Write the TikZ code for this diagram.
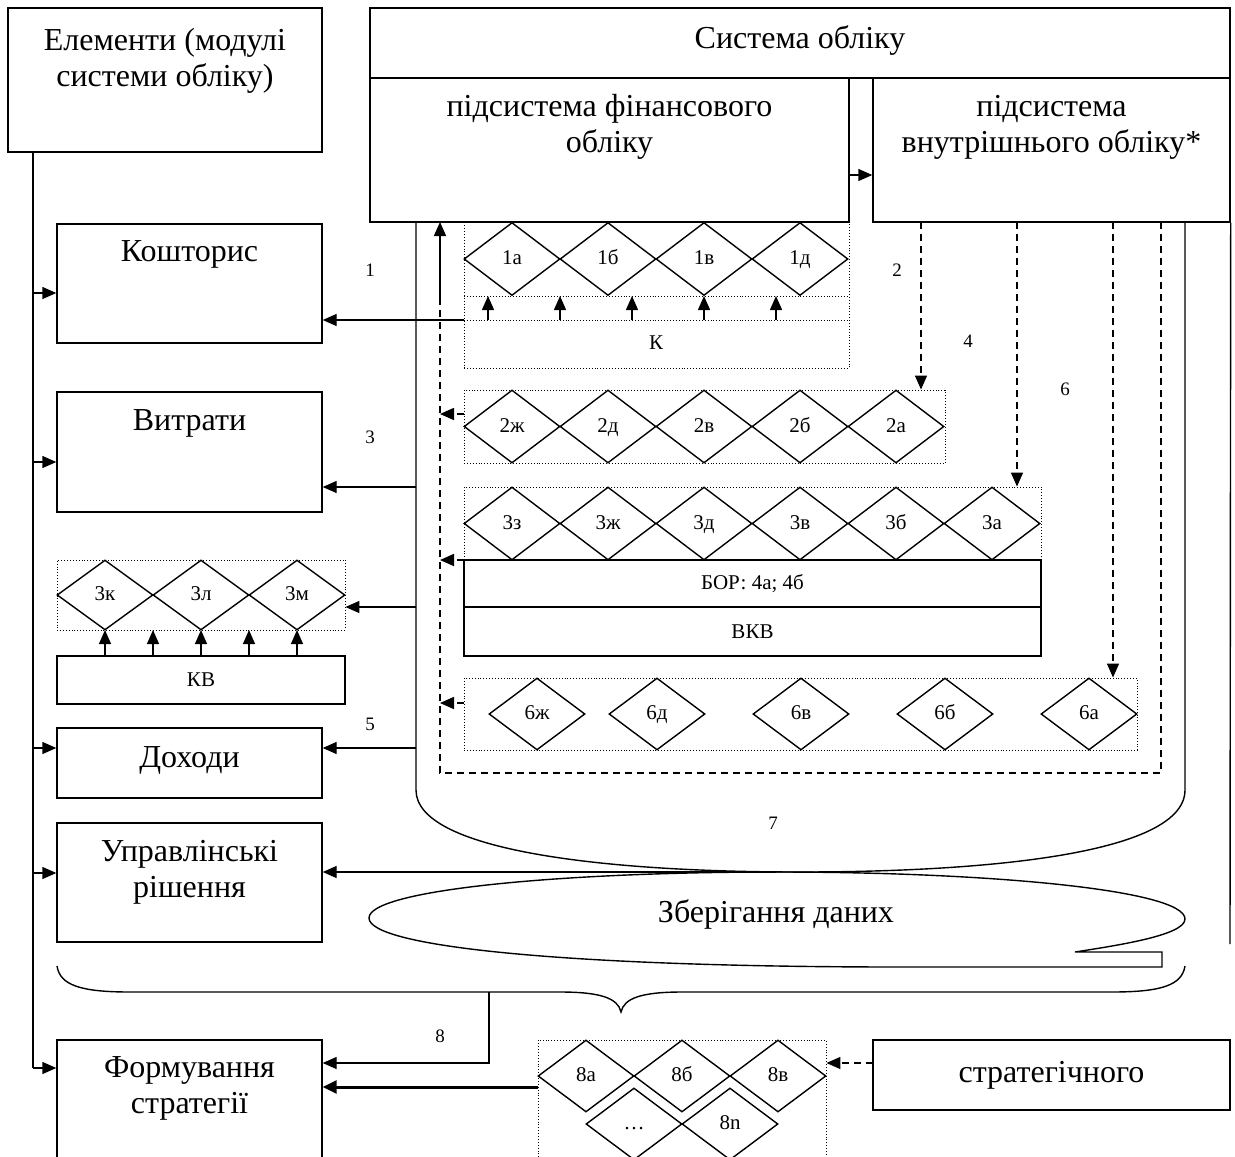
\documentclass[tikz,border=0pt]{standalone}
\usepackage{fontspec}
\setmainfont{Liberation Serif}
\usetikzlibrary{arrows.meta,shapes.geometric}

\tikzset{
  box/.style={draw, line width=1.4pt, inner sep=0pt},
  dia/.style={draw, diamond, line width=1.4pt, minimum width=96pt, minimum height=73pt,
    inner sep=0pt, text height=14pt, text depth=3pt, font=\fontsize{21}{24}\selectfont},
  grp/.style={draw, dotted, line width=0.9pt, inner sep=0pt},
  arr/.style={line width=1.4pt, -{Triangle[length=14pt,width=12pt]}},
  darr/.style={line width=1.6pt, dash pattern=on 7pt off 5pt, -{Triangle[length=14pt,width=12pt]}},
  dline/.style={line width=1.6pt, dash pattern=on 7pt off 5pt},
  big/.style={font=\fontsize{32}{36}\selectfont, align=center, inner sep=0pt},
  small/.style={font=\fontsize{21}{24}\selectfont, inner sep=0pt},
  num/.style={font=\fontsize{19}{22}\selectfont, inner sep=0pt}
}

\begin{document}
\begin{tikzpicture}[x=1pt,y=-1pt]
\useasboundingbox (0,0) rectangle (1235,1157);

% ---------- left column ----------
\node[box, minimum width=314pt, minimum height=144pt] (elem) at (165,80) {};
\node[big] (elemT) at (165,61) {Елементи (модулі\\системи обліку)};

\node[box, minimum width=265pt, minimum height=119pt] (kosh) at (189.5,283.5) {};
\node[big] (koshT) at (189.5,254) {Кошторис};

\node[box, minimum width=265pt, minimum height=120pt] (vytr) at (189.5,452) {};
\node[big] (vytrT) at (189.5,423) {Витрати};

\node[grp, minimum width=288pt, minimum height=70pt] (gK) at (201,595) {};
\node[dia, minimum height=70pt] (d3k) at (105,595) {3к};
\node[dia, minimum height=70pt] (d3l) at (201,595) {3л};
\node[dia, minimum height=70pt] (d3m) at (297,595) {3м};
\node[box, minimum width=288pt, minimum height=48pt, small] (kv) at (201,680) {КВ};
\foreach \xx in {105,153,201,249,297}
  \draw[arr] (\xx,656) -- (\xx,630);

\node[box, minimum width=265pt, minimum height=70pt] (doh) at (189.5,763) {};
\node[big] (dohT) at (189.5,760) {Доходи};

\node[box, minimum width=265pt, minimum height=119pt] (upr) at (189.5,882.5) {};
\node[big] (uprT) at (189.5,872) {Управлінські\\рішення};

\node[box, minimum width=265pt, minimum height=140pt] (form) at (189.5,1110) {};
\node[big] (formT) at (189.5,1088) {Формування\\стратегії};

% trunk from the modules box
\coordinate (tr0) at (33,152);
\coordinate (tr1) at (33,293);
\coordinate (tr2) at (33,462);
\coordinate (tr3) at (33,748);
\coordinate (tr4) at (33,873);
\coordinate (tr5) at (33,1068);
\draw[line width=1.4pt] (tr0) -- (tr5);
\draw[arr] (tr1) -- (tr1 -| kosh.west);
\draw[arr] (tr2) -- (tr2 -| vytr.west);
\draw[arr] (tr3) -- (tr3 -| doh.west);
\draw[arr] (tr4) -- (tr4 -| upr.west);
\draw[arr] (tr5) -- (tr5 -| form.west);

% ---------- accounting system ----------
\node[box, minimum width=860pt, minimum height=70pt] (sys) at (800,43) {};
\node[big] (sysT) at (800,40) {Система обліку};
\node[box, minimum width=479pt, minimum height=144pt] (fin) at (609.5,150) {};
\node[big] (finT) at (609.5,127) {підсистема фінансового\\обліку};
\node[box, minimum width=357pt, minimum height=144pt] (inn) at (1051.5,150) {};
\node[big] (innT) at (1051.5,127) {підсистема\\внутрішнього обліку*};
\coordinate (fi) at (849,175);
\draw[arr] (fi) -- (fi -| inn.west);

% outer frame of the system
\draw[line width=1.4pt] (416,222) -- (416,790)
  .. controls (416,850) and (600,872) .. (800,872)
  .. controls (980,872) and (1185,855) .. (1185,790) -- (1185,222);
\coordinate (rl) at (1230,944);
\draw[line width=1.4pt] (inn.south east) -- (rl);

% group 1
\node[grp, minimum width=385pt, minimum height=146pt] (g1) at (656.5,295) {};
\node[dia] (d1a) at (512,259) {1а};
\node[dia] (d1b) at (608,259) {1б};
\node[dia] (d1v) at (704,259) {1в};
\node[dia] (d1d) at (800,259) {1д};
\draw[dotted, line width=0.9pt] (464,296) -- (849,296);
\draw[dotted, line width=0.9pt] (464,320) -- (849,320);
\foreach \xx in {488,560,632,704,776}
  \draw[arr] (\xx,320) -- (\xx,296);
\node[small] (kT) at (656,343) {К};
\coordinate (g1o) at (464,320);
\draw[arr] (g1o) -- (g1o -| kosh.east);

% group 2
\node[grp, minimum width=481pt, minimum height=73pt] (g2) at (704.5,426.5) {};
\node[dia] (d2zh) at (512,426.5) {2ж};
\node[dia] (d2d) at (608,426.5) {2д};
\node[dia] (d2v) at (704,426.5) {2в};
\node[dia] (d2b) at (800,426.5) {2б};
\node[dia] (d2a) at (896,426.5) {2а};

% group 3
\node[grp, minimum width=577pt, minimum height=73pt] (g3) at (752.5,523.5) {};
\node[dia] (d3z) at (512,523.5) {3з};
\node[dia] (d3zh) at (608,523.5) {3ж};
\node[dia] (d3d) at (704,523.5) {3д};
\node[dia] (d3v) at (800,523.5) {3в};
\node[dia] (d3b) at (896,523.5) {3б};
\node[dia] (d3a) at (992,523.5) {3а};
\node[box, minimum width=577pt, minimum height=47pt, small] (bor) at (752.5,583.5) {БОР: 4а; 4б};
\node[box, minimum width=577pt, minimum height=49pt, small] (vkv) at (752.5,631.5) {ВКВ};

% group 6
\node[grp, minimum width=673pt, minimum height=72pt] (g6) at (800.5,714) {};
\node[dia, minimum height=72pt] (d6zh) at (537,714) {6ж};
\node[dia, minimum height=72pt] (d6d) at (657,714) {6д};
\node[dia, minimum height=72pt] (d6v) at (801,714) {6в};
\node[dia, minimum height=72pt] (d6b) at (945,714) {6б};
\node[dia, minimum height=72pt] (d6a) at (1089,714) {6а};

% flows out of the frame to the modules
\coordinate (f3) at (416,487);
\coordinate (f3k) at (416,607);
\coordinate (f5) at (416,748);
\draw[arr] (f3) -- (f3 -| vytr.east);
\draw[arr] (f3k) -- (f3k -| gK.east);
\draw[arr] (f5) -- (f5 -| doh.east);

% dashed flows from internal accounting
\coordinate (i2) at (921,222);
\coordinate (i4) at (1017,222);
\coordinate (i6) at (1113,222);
\coordinate (i7) at (1161,222);
\draw[darr] (i2) -- (i2 |- g2.north);
\draw[darr] (i4) -- (i4 |- g3.north);
\draw[darr] (i6) -- (i6 |- g6.north);
\coordinate (lpA) at (1161,773);
\coordinate (lpB) at (440,773);
\coordinate (lpC) at (440,222);
\draw[dline] (i7) -- (lpA) -- (lpB) -- (440,240);
\draw[darr] (440,300) -- (lpC);
\coordinate (r2) at (440,414);
\coordinate (r3) at (440,560);
\coordinate (r6) at (440,703);
\draw[darr] (r2 -| g2.west) -- (r2);
\draw[darr] (r3 -| g3.west) -- (r3);
\draw[darr] (r6 -| g6.west) -- (r6);

% flow labels
\node[num] (n1) at (370,270) {1};
\node[num] (n2) at (897,270) {2};
\node[num] (n3) at (370,437) {3};
\node[num] (n4) at (968,341) {4};
\node[num] (n5) at (370,724) {5};
\node[num] (n6) at (1065,389) {6};
\node[num] (n7) at (773,823) {7};
\node[num] (n8) at (440,1036) {8};

% data storage
\draw[line width=1.4pt] (369,918) .. controls (369,890) and (560,872) .. (776,872)
  .. controls (990,872) and (1185,890) .. (1185,919)
  .. controls (1185,935) and (1120,945) .. (1075,952) -- (1162,952) -- (1162,967)
  -- (900,967) .. controls (560,967) and (369,946) .. (369,918);
\node[big] (store) at (776,914) {Зберігання даних};
\coordinate (st) at (776,872);
\draw[arr] (st) -- (st -| upr.east);

% brace collecting the modules
\draw[line width=1.4pt] (57,966) .. controls (60,985) and (80,992) .. (130,992)
  -- (560,992) .. controls (600,992) and (618,998) .. (621,1012)
  .. controls (624,998) and (642,992) .. (682,992) -- (1112,992)
  .. controls (1162,992) and (1182,985) .. (1185,966);
\coordinate (b8) at (489,992);
\coordinate (b8c) at (489,1063);
\draw[arr] (b8) -- (b8c) -- (b8c -| form.east);

% strategic group
\node[grp, minimum width=288pt, minimum height=140pt] (g8) at (682,1110) {};
\node[dia, minimum height=72pt] (d8a) at (586,1076) {8а};
\node[dia, minimum height=72pt] (d8b) at (682,1076) {8б};
\node[dia, minimum height=72pt] (d8v) at (778,1076) {8в};
\node[dia, minimum height=72pt] (d8e) at (634,1124) {…};
\node[dia, minimum height=72pt] (d8n) at (730,1124) {8n};
\coordinate (s8) at (538,1087);
\draw[line width=3pt, -{Triangle[length=14pt,width=13pt]}] (s8) -- (s8 -| form.east);

\node[box, minimum width=357pt, minimum height=70pt, big] (strat) at (1051.5,1075) {стратегічного};
\coordinate (sa) at (873,1063);
\draw[darr] (sa) -- (sa -| g8.east);
\end{tikzpicture}
\end{document}
